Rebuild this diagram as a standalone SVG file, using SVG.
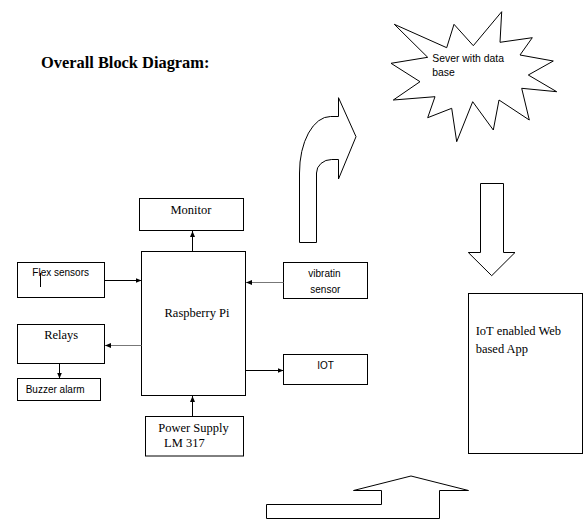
<svg xmlns="http://www.w3.org/2000/svg" width="584" height="520" viewBox="0 0 584 520">
<style>
.box{fill:#fff;stroke:#000;stroke-width:1}
.shape{fill:#fff;stroke:#000;stroke-width:1;stroke-linejoin:miter}
.serif{font-family:"Liberation Serif","Times New Roman",serif;font-size:12.5px;fill:#000}
.sans{font-family:"Liberation Sans",Arial,sans-serif;font-size:10px;fill:#000}
.title{font-family:"Liberation Serif","Times New Roman",serif;font-size:16.4px;font-weight:bold;fill:#000}
.conn{stroke:#000;stroke-width:1;fill:none;marker-end:url(#ah)}
</style>
<defs>
<marker id="ah" viewBox="0 0 6 6" refX="6" refY="3" markerWidth="6" markerHeight="6" markerUnits="userSpaceOnUse" orient="auto">
<path d="M0,0.5 L6,3 L0,5.5 Z" fill="#000"/>
</marker>
</defs>
<rect width="584" height="520" fill="#fff"/>
<text class="title" x="41" y="68">Overall Block Diagram:</text>

<g id="server">
<polygon class="shape" points="394.3,24.3 446.7,47.7 454,24.3 473.3,45.7 501.7,11.7 500,42.3 532.3,37.7 520,55 553.3,61 528.3,75 556.7,91.7 521.7,88.3 529.3,120 499,100 493.3,130 472.7,101.7 456.7,141.7 451.7,108.3 427.7,117.7 435,96.7 393.3,100 420,81.7 391,63.3 427.7,57.3"/>
<text class="sans" x="432.3" y="62.3" style="font-size:10.4px">Sever with data</text>
<text class="sans" x="432.3" y="76" style="font-size:10.4px">base</text>
</g>

<g id="bent-arrow">
<path class="shape" d="M299.5,242.5 L299.5,173 A31,56 0 0 1 330.5,116.5 L338.5,116.5 L338.5,97.7 L356,136.7 L338.5,179 L338.5,159.5 L331.7,159.5 A15.2,13.5 0 0 0 316.5,173 L316.5,242.5 Z"/>
</g>

<g id="down-arrow">
<path class="shape" d="M480.5,183.5 L503.5,183.5 L503.5,252.5 L515,252.5 L491.7,275.7 L468.3,252.5 L480.5,252.5 Z"/>
</g>

<g id="up-arrow">
<path class="shape" d="M266.5,504.5 L266.5,518.5 L439.5,518.5 L439.5,490.5 L468.5,490.5 L411,476 L353.5,490.5 L381.5,490.5 L381.5,504.5 Z"/>
</g>

<g id="monitor">
<rect class="box" x="139.5" y="198.5" width="104" height="32"/>
<text class="serif" x="191" y="213.5" text-anchor="middle">Monitor</text>
</g>

<g id="raspberry-pi">
<rect class="box" x="141.5" y="251.5" width="104" height="144"/>
<text class="serif" x="197" y="317" text-anchor="middle">Raspberry Pi</text>
</g>

<g id="flex-sensors">
<rect class="box" x="17.5" y="262.5" width="87" height="35"/>
<text class="sans" x="32.3" y="276">Flex sensors</text>
<line x1="40.5" y1="273" x2="40.5" y2="287" stroke="#000" stroke-width="1"/>
</g>

<g id="relays">
<rect class="box" x="17.5" y="324.5" width="87" height="39"/>
<text class="serif" x="61.2" y="339" text-anchor="middle">Relays</text>
</g>

<g id="buzzer-alarm">
<rect class="box" x="17.5" y="378.5" width="83" height="22"/>
<text class="sans" x="25.7" y="393.3">Buzzer alarm</text>
</g>

<g id="vibration-sensor">
<rect class="box" x="283.5" y="262.5" width="84" height="36"/>
<text class="sans" x="308.3" y="277.3">vibratin</text>
<text class="sans" x="310.3" y="293.3">sensor</text>
</g>

<g id="iot">
<rect class="box" x="283.5" y="354.5" width="84" height="30"/>
<text class="sans" x="317.3" y="369">IOT</text>
</g>

<g id="power-supply">
<rect class="box" x="145.5" y="416.5" width="98" height="39.5"/>
<text class="serif" x="158.3" y="432">Power Supply</text>
<text class="serif" x="164" y="446.5">LM 317</text>
</g>

<g id="web-app">
<rect class="box" x="468.5" y="293.5" width="114" height="160"/>
<text class="serif" x="475.7" y="335">IoT enabled Web</text>
<text class="serif" x="475.7" y="352.7">based App</text>
</g>

<g id="connectors">
<line class="conn" x1="104.5" y1="280.5" x2="141.5" y2="280.5"/>
<line class="conn" x1="141.5" y1="345.5" x2="105" y2="345.5" style="stroke:#777"/>
<line class="conn" x1="59.5" y1="363.5" x2="59.5" y2="378.5"/>
<line class="conn" x1="192.5" y1="251.5" x2="192.5" y2="231"/>
<line class="conn" x1="283.5" y1="282.5" x2="246" y2="282.5" style="stroke:#777"/>
<line class="conn" x1="245.5" y1="370.5" x2="283.5" y2="370.5"/>
<line class="conn" x1="192.5" y1="416.5" x2="192.5" y2="396"/>
</g>
</svg>
